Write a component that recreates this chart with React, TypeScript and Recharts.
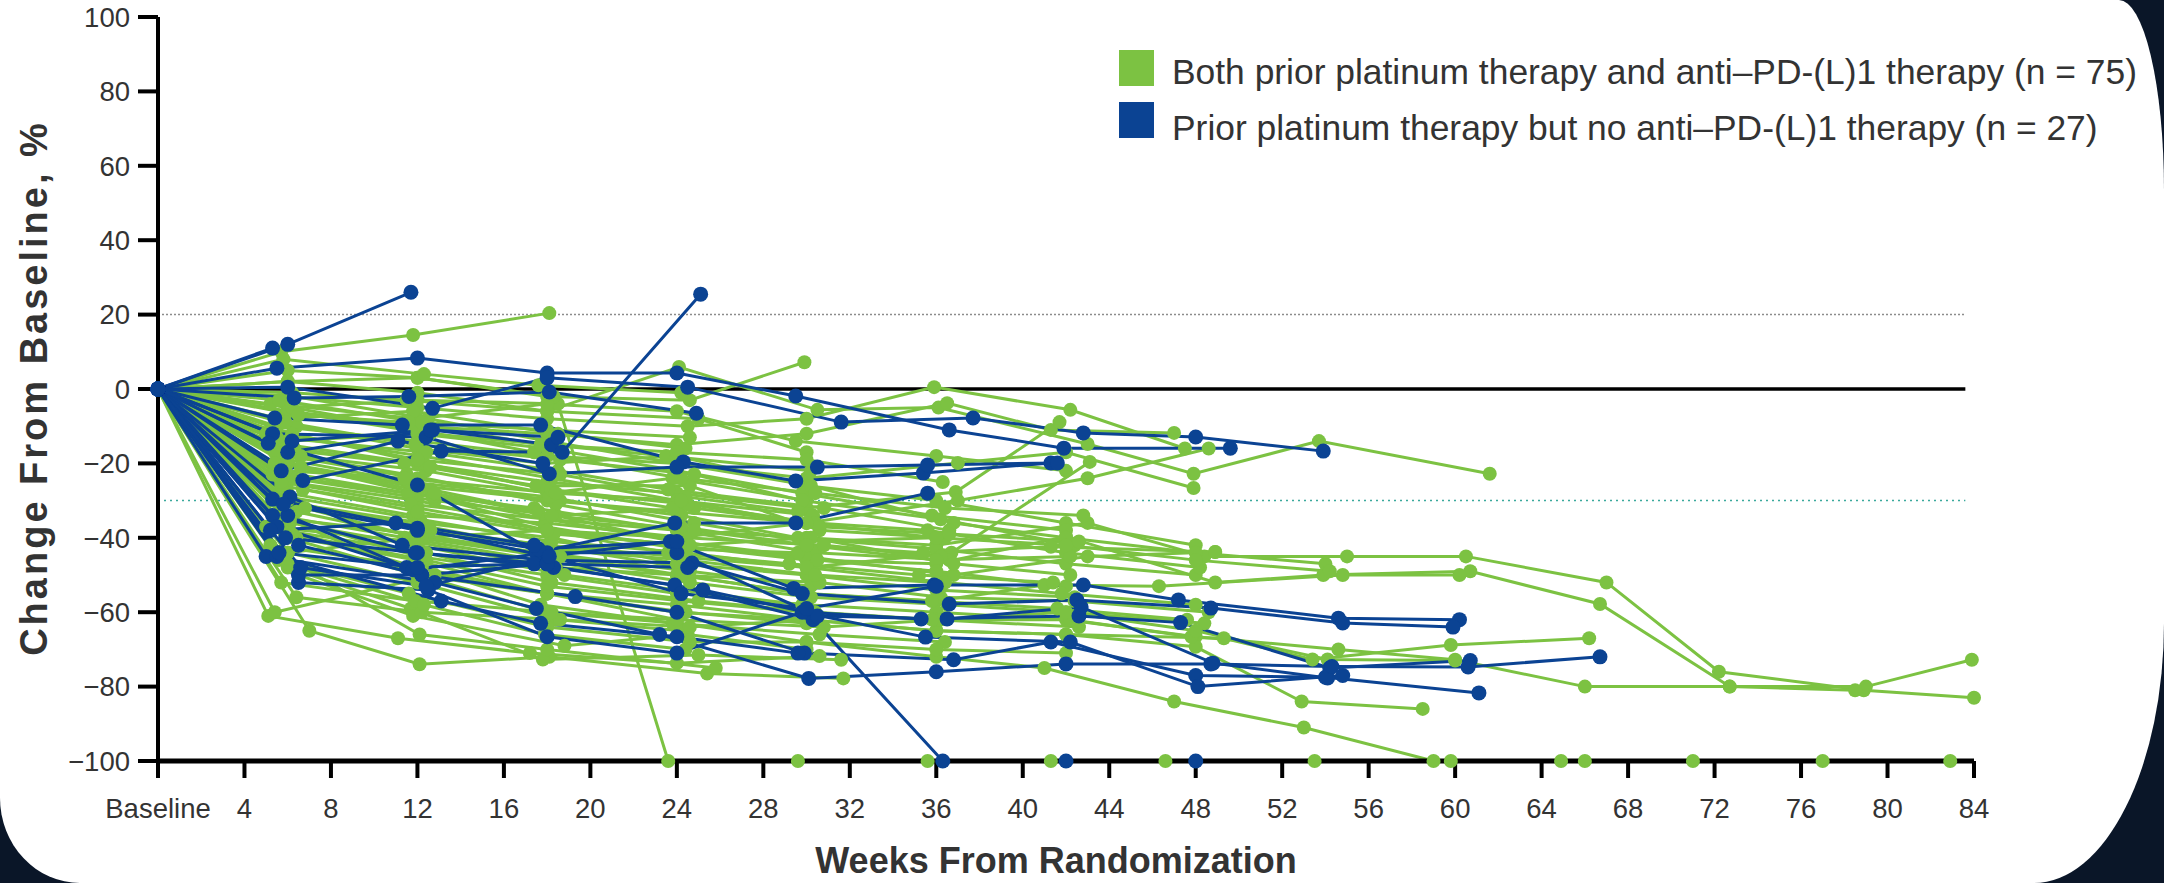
import React from 'react';
import { LineChart, Line, XAxis, YAxis, ReferenceLine } from 'recharts';

// spider plot: % change from baseline per patient, [week, value] pairs
const weekTicks = [0, 4, 8, 12, 16, 20, 24, 28, 32, 36, 40, 44, 48, 52, 56, 60, 64, 68, 72, 76, 80, 84];
const pctTicks = [-100, -80, -60, -40, -20, 0, 20, 40, 60, 80, 100];

const legendLabels = [
    'Both prior platinum therapy and anti\u2013PD-(L)1 therapy (n = 75)',
    'Prior platinum therapy but no anti\u2013PD-(L)1 therapy (n = 27)',
];

type Pt = [number, number];

const greenLines: Pt[][] = [
    [[0, 0], [5.7, 10], [11.8, 14.5], [18.1, 20.4]],
    [[0, 0], [6, 2], [12, 3], [18, -2], [24.6, -3], [29.9, 7.2]],
    [[0, 0], [6, 2], [12, -1], [18, -6], [24.1, 5.9], [30.5, -5.6], [36.1, -5], [43, -14.8], [47.9, -22.8], [53.7, -14], [61.6, -22.8]],
    [[0, 0], [6, -2], [12, -5], [18, -8], [24.5, -10], [30, -8], [35.9, 0.5], [42.2, -5.6], [47.5, -16]],
    [[0, 0], [6, -6], [12, -10], [18, -12], [24, -15], [30, -12], [36.5, -3.8], [41.3, -11], [47, -11.8]],
    [[0, 0], [5.5, -10], [12, -14], [18, -18], [24, -20], [30, -24], [37, -19.9], [42, -17], [47.9, -26.6]],
    [[0, 0], [6, -15], [12, -20], [18, -25], [24, -28], [30, -32], [36.9, -27.7], [41.7, -8.9]],
    [[0, 0], [6, -18], [12, -24], [18, -30], [24, -33], [30, -36], [37, -30], [43, -24], [48.6, -16]],
    [[0, 0], [6, -30], [12, -38], [18, -42], [24, -45], [30, -48], [36.7, -44], [43.1, -19.6]],
    [[0, 0], [6, -20], [12, -28], [18, -35], [24, -38], [30, -40], [36, -42], [43, -36], [48.4, -45], [55, -45], [60.5, -45], [67, -52], [72.2, -76], [78.9, -81], [84, -83]],
    [[0, 0], [6, -25], [12, -30], [18, -38], [24, -42], [30, -46], [36, -47], [42, -39.7], [48.9, -52], [53.9, -50], [60.7, -49], [66.7, -57.8], [72.7, -80], [79, -80], [83.9, -72.8]],
    [[0, 0], [5.5, -30], [12, -40], [18, -45], [24, -50], [30, -55], [36, -57], [41, -52.7], [46.3, -53], [54.8, -50], [60.2, -50]],
    [[0, 0], [6, -35], [12, -45], [18, -50], [24, -55], [30, -58], [36, -60], [42, -62], [48, -66.6], [54.6, -70], [60, -72.8], [66, -80], [72.7, -80], [78.5, -81]],
    [[0, 0], [6, -40], [12, -50], [18, -55], [24, -58], [30, -62], [36, -65], [42, -66], [49.3, -67], [53.4, -72.7], [59.8, -68.8], [66.2, -67]],
    [[0, 0], [6, -5], [12, -3], [18.5, -4], [23.6, -100], [29.6, -100], [35.6, -100], [41.3, -100], [46.6, -100], [53.5, -100], [59.8, -100], [66, -100], [71, -100], [77, -100], [82.9, -100]],
    [[0, 0], [6, -35], [12, -50], [18, -60], [24, -63], [30, -68], [36, -72], [41, -75], [47, -84], [53, -91], [59, -100], [64.9, -100]],
    [[0, 0], [6, -38], [12, -48], [18, -55], [24, -60], [30, -62], [36, -65], [42, -66], [48, -69.3], [52.9, -84], [58.5, -86]],
    [[0, 0], [5.1, -61], [11.1, -67], [17.2, -71], [24, -73.7], [30.6, -71.8]],
    [[0, 0], [5.4, -60], [12.8, -50], [18, -55], [24, -62]],
    [[0, 0], [7, -65], [12.1, -74], [18.1, -72], [25.4, -76.5], [31.7, -77.8]],
    [[0, 0], [6, -48], [11.7, -59], [17.8, -72.7], [25, -71.5], [31.6, -72.8]],
    [[0, 0], [6.5, -50], [11.8, -61], [18.8, -69], [24.5, -66], [30, -70]],
    [[0, 0], [5.8, -45], [12.1, -66], [18, -70], [25.8, -75]],
    [[0, 0], [6, 5], [12, 3], [18.3, -2]],
    [[0, 0], [5.8, 8], [12.3, 4], [17.6, 1], [24.2, -1]],
    [[0, 0], [6.2, -1], [11.5, -3], [18, -6], [25, -8], [30, -17]],
    [[0, 0], [5.2, -4], [12, -8], [18, -4], [24, -6], [29.5, -14], [36, -18], [42, -22]],
    [[0, 0], [6, -6], [12.6, -12], [18, -15], [23.5, -18], [30.2, -22]],
    [[0, 0], [5.6, -8], [11.8, -6], [18.5, -12], [24.4, -16]],
    [[0, 0], [6.4, -10], [12, -16], [17.8, -20], [24, -18], [30, -26], [36, -30], [42, -36], [48, -42]],
    [[0, 0], [5, -12], [12.2, -18], [18.2, -24], [24, -30], [30.3, -34]],
    [[0, 0], [6, -14], [12, -12], [18, -16], [24, -22], [29.8, -28], [35.8, -34], [42, -38]],
    [[0, 0], [5.6, -16], [11.4, -20], [17.5, -26], [24.6, -26], [30.6, -38], [36.4, -40]],
    [[0, 0], [6.6, -18], [12.4, -22], [18, -28], [23.8, -24], [30, -30]],
    [[0, 0], [5.9, -20], [12, -26], [18.6, -30], [24.2, -34], [29.6, -40], [36, -43], [42, -47], [48, -50]],
    [[0, 0], [5.4, -22], [11.6, -28], [17.4, -32], [24, -38], [30.4, -44], [36.6, -46]],
    [[0, 0], [6.2, -24], [12.8, -30], [18.4, -34], [24.8, -32], [30, -36]],
    [[0, 0], [5.7, -26], [12, -32], [18, -38], [23.6, -44], [29.2, -47], [35.2, -50], [41.4, -52]],
    [[0, 0], [6, -28], [11.8, -34], [17.9, -36], [24.4, -40], [30.8, -42], [36.2, -45]],
    [[0, 0], [5.3, -30], [12.2, -36], [18.2, -40], [24, -47], [30, -50], [36, -54], [42.4, -56]],
    [[0, 0], [6.8, -32], [12.6, -38], [18, -42], [24.2, -48]],
    [[0, 0], [5.5, -34], [11.4, -40], [17.6, -46], [24.6, -52], [30.2, -56], [36.5, -58], [42, -60], [48.4, -63]],
    [[0, 0], [6.1, -36], [12, -42], [18.8, -50], [24, -54], [29.8, -58]],
    [[0, 0], [5.8, -38], [12.4, -44], [18.2, -52], [25, -57], [30.4, -60], [36, -62], [42.6, -64]],
    [[0, 0], [6.4, -40], [11.9, -46], [18, -55], [24.4, -60], [30, -63]],
    [[0, 0], [5.2, -42], [12.2, -48], [17.7, -58], [23.8, -63], [30.6, -66], [36.4, -68]],
    [[0, 0], [6, -44], [12, -52], [18.4, -62], [24.2, -65]],
    [[0, 0], [5.6, -46], [11.6, -55], [18, -64], [24.6, -68], [30, -68], [36, -70], [42, -71]],
    [[0, 0], [6.3, -2], [12.5, -8], [18, -14], [24, -20], [30.2, -26], [36.8, -36], [42, -40], [48, -44], [54, -47]],
    [[0, 0], [5.9, -9], [11.9, -15], [18.6, -19], [24.8, -23], [29.8, -30], [36.2, -35], [42.4, -42]],
    [[0, 0], [6.2, -12], [12.3, -20], [18, -27], [24.5, -31], [30.4, -36], [35.6, -38], [42, -44], [48.2, -48]],
    [[0, 0], [5.4, -17], [11.5, -23], [18.4, -31], [24.2, -37], [30, -42], [36, -46], [42.2, -45]],
    [[0, 0], [6.6, -21], [12.6, -27], [17.6, -33], [23.9, -41], [29.9, -45], [36.8, -50], [43, -45], [48.9, -43.8]],
    [[0, 0], [5.7, -25], [11.7, -31], [18, -35], [24, -41], [30.5, -46], [36, -49], [42, -53]],
    [[0, 0], [6, -29], [12.1, -35], [18.2, -41], [24.4, -44], [30, -48], [36.4, -52], [41.8, -55], [48, -58]],
    [[0, 0], [6.4, -33], [12.2, -40], [17.8, -44], [24.6, -49], [30.2, -53]],
    [[0, 0], [5, -37], [11.8, -41], [18.4, -48], [24, -50], [30.6, -52], [36.2, -56], [42.4, -57], [48.6, -60]],
    [[0, 0], [6.2, -5], [12, -11], [17.4, -17], [24.2, -24], [30.4, -28], [36.4, -32], [42.8, -34]],
    [[0, 0], [5.5, -13], [12.4, -17], [18.5, -22], [23.6, -27], [30.8, -32], [36.6, -38]],
    [[0, 0], [6, -19], [11.6, -25], [18.1, -29], [24.8, -36], [30, -41], [36, -40], [42, -42], [48, -46], [54.2, -49]],
    [[0, 0], [5.3, -23], [12.7, -29], [17.9, -37], [24.2, -43], [29.6, -44]],
    [[0, 0], [6.7, -27], [12, -33], [18.3, -39], [24.6, -42], [30.2, -40], [36.8, -47], [42.2, -50]],
    [[0, 0], [5.8, -31], [12.5, -37], [18, -43], [24.4, -46], [30.4, -50], [36, -52]],
    [[0, 0], [6.1, -35], [11.9, -39], [18.6, -45], [24.2, -50], [29.8, -55], [35.8, -57], [41.6, -59], [47.6, -62]],
    [[0, 0], [5.6, -3], [12.2, -9], [18, -11], [24.6, -13]],
    [[0, 0], [6.5, -7], [11.6, -9], [17.7, -15], [24, -17], [30, -19], [36.3, -25]],
    [[0, 0], [5.2, -11], [12, -19], [18.6, -23], [24.4, -29], [29.6, -33]],
    [[0, 0], [6.3, -16], [12.6, -21], [18.2, -27], [23.8, -32]],
    [[0, 0], [5.9, -22], [11.4, -24], [18.4, -28], [24.2, -30], [30.6, -37], [36.6, -39], [42.6, -41]],
    [[0, 0], [6, -44], [12, -40], [18, -38], [24, -40], [30, -36], [36, -40]],
    [[0, 0], [6.4, -56], [12.2, -60], [18.6, -62], [24.6, -64], [30.2, -62]],
    [[0, 0], [5.7, -52], [11.9, -57], [18.2, -60], [24, -62], [30.8, -64], [36.2, -62], [42.2, -62], [47.8, -66.6]],
    [[0, 0], [6, -47], [12.3, -58], [17.9, -66], [24.4, -70]],
    [[0, 0], [6.2, -39], [12.4, -46], [18, -53], [24.2, -57], [30, -60], [35.8, -62], [42, -60], [48, -65], [54.1, -72.7], [60, -73]],
    [[0, 0], [5.4, -20], [12.8, -28], [18.2, -34], [24.8, -38], [30, -42], [35.4, -44], [41.3, -42.4], [48.9, -43.8]],
];

const blueLines: Pt[][] = [
    [[0, 0], [6, 12], [11.7, 26]],
    [[0, 0], [5.3, 11]],
    [[0, 0], [5.5, 5.6], [12, 8.3], [18, 4.3], [24, 4.3], [29.5, -1.9], [36.6, -11], [41.9, -15.9], [49.6, -15.9]],
    [[0, 0], [6, 0.5], [12.7, -5.2], [18, 3], [24.5, 0.5], [31.6, -8.9], [37.7, -7.8], [42.8, -11.8], [48, -12.9], [53.9, -16.7]],
    [[0, 0], [6.3, -2.4], [11.6, -2], [18.1, -0.8], [24.9, -6.5]],
    [[0, 0], [5.4, -7.8], [11.3, -9.7], [17.7, -9.7], [24.3, -19.6], [29.5, -24.7], [35.4, -22.6], [41.3, -19.9]],
    [[0, 0], [5.3, -12], [12.4, -12.9], [18.1, -22.8], [24, -21], [30.5, -21], [35.6, -20.4], [41.6, -19.9]],
    [[0, 0], [6, -17], [12.7, -11], [18.2, -15]],
    [[0, 0], [6.7, -24.6], [13.1, -16.7], [18.7, -17], [25.1, 25.5]],
    [[0, 0], [5.1, -14.6], [12, -25.8], [17.5, -44], [23.9, -36], [29.5, -36], [35.6, -28]],
    [[0, 0], [5.7, -22], [11.1, -14], [17.8, -20]],
    [[0, 0], [5.3, -29.6], [12, -37.4], [18, -45], [23.7, -41], [29.4, -53.6], [35.9, -52.7], [42.8, -52.7], [47.2, -56.7], [54.6, -61.6], [60.2, -62]],
    [[0, 0], [6.1, -29], [11.3, -42], [17.8, -46], [24.7, -46.8], [29.8, -55], [36.6, -57.8], [42.5, -56.7], [48.7, -58.9], [54.8, -62.9], [59.9, -64]],
    [[0, 0], [5.3, -34], [12, -44], [18.3, -48], [23.9, -52.7], [30.3, -62], [36.3, -100], [42, -100], [48, -100]],
    [[0, 0], [6, -34], [11.5, -48], [17.4, -47], [25.2, -54], [30, -60], [35.3, -61.8], [42.6, -61], [47.3, -62.8], [54.2, -75], [60.7, -73]],
    [[0, 0], [5.5, -37], [11.8, -48.6], [18, -44], [24, -44], [30.5, -61], [36.5, -61.8], [42.7, -58.6], [48.8, -73.7], [54.1, -77.7]],
    [[0, 0], [6.5, -42], [12.2, -50], [19.3, -55.8], [24, -60], [29.9, -71], [36.8, -72.8], [41.3, -68], [48, -77], [54, -77.5], [61.1, -81.7]],
    [[0, 0], [5, -45], [12.8, -52], [17.5, -59], [23.2, -66], [30.1, -77.8], [36, -76], [42, -73.9], [48.7, -73.9], [54.3, -74.6], [60.6, -74.7], [66.7, -72]],
    [[0, 0], [5.5, -45], [13.1, -57], [17.7, -63], [24, -66.6], [29.6, -71]],
    [[0, 0], [6.5, -52], [12.5, -54], [18, -66.6], [24, -71], [29.8, -60], [35.5, -66.7], [42.2, -68], [48.1, -80], [54.8, -77]],
    [[0, 0], [6.5, -50], [12.2, -50], [18, -47], [24.5, -48]],
    [[0, 0], [5.8, -31], [12, -38], [17.6, -43], [24, -41]],
    [[0, 0], [6.2, -14], [12.6, -11], [18.5, -13]],
    [[0, 0], [5.9, -40], [11.9, -44], [18, -47]],
    [[0, 0], [5.6, -44], [12, -48]],
    [[0, 0], [6.6, -48], [12.4, -53], [18.1, -45], [24.2, -55], [30, -59], [36, -53]],
    [[0, 0], [5.2, -38], [11, -36], [17.4, -42]],
];

const GREEN = '#7cc242';
const BLUE = '#0b4393';
const FONT = '"Liberation Sans", Arial, sans-serif';

const toPts = (line: Pt[]) => line.map(([w, v]) => ({ w, v }));
const fmtPct = (v: number) => (v < 0 ? `\u2212${Math.abs(v)}` : `${v}`);

export default function App() {
    const axisStyle = { stroke: '#000', strokeWidth: 4 };
    return (
        <div style={{ position: 'absolute', left: 0, top: 0, width: 2164, height: 883, background: '#0a1628', overflow: 'hidden' }}>
            <div style={{
                position: 'absolute', left: 0, top: 0, width: 2164, height: 883, background: '#fff',
                borderRadius: '0 45px 130px 80px / 0 190px 260px 85px',
            }} />
            <LineChart width={2164} height={883} margin={{ top: 17, right: 190, bottom: 62, left: 98 }}
                style={{ position: 'absolute', left: 0, top: 0 }}>
                <XAxis dataKey="w" type="number" domain={[0, 84]} ticks={weekTicks} allowDuplicatedCategory={false}
                    tickFormatter={(v: number) => (v === 0 ? 'Baseline' : `${v}`)}
                    tick={{ fill: '#333', fontSize: 27.5, fontFamily: FONT }}
                    tickSize={17} tickMargin={20} height={60}
                    axisLine={{ stroke: '#000', strokeWidth: 5 }} tickLine={axisStyle} />
                <YAxis dataKey="v" type="number" domain={[-100, 100]} ticks={pctTicks} width={60}
                    tickFormatter={fmtPct}
                    tick={{ fill: '#333', fontSize: 27.5, fontFamily: FONT }}
                    tickSize={20} tickMargin={8}
                    axisLine={axisStyle} tickLine={axisStyle} />
                <ReferenceLine segment={[{ x: 0, y: 20 }, { x: 83.6, y: 20 }]} stroke="#8c8c8c" strokeWidth={1.5} strokeDasharray="2 2" />
                <ReferenceLine segment={[{ x: 0, y: -30 }, { x: 83.6, y: -30 }]} stroke="#3aa99c" strokeWidth={1.5} strokeDasharray="2 4" />
                <ReferenceLine segment={[{ x: 0, y: 0 }, { x: 83.6, y: 0 }]} stroke="#000" strokeWidth={3.5} />
                {greenLines.map((l, i) => (
                    <Line key={`g${i}`} data={toPts(l)} dataKey="v" stroke={GREEN} strokeWidth={3}
                        dot={{ r: 7, fill: GREEN, stroke: GREEN, strokeWidth: 0 }} activeDot={false}
                        isAnimationActive={false} />
                ))}
                {blueLines.map((l, i) => (
                    <Line key={`b${i}`} data={toPts(l)} dataKey="v" stroke={BLUE} strokeWidth={3}
                        dot={{ r: 7.5, fill: BLUE, stroke: BLUE, strokeWidth: 0 }} activeDot={false}
                        isAnimationActive={false} />
                ))}
            </LineChart>
            <svg width={2164} height={883} style={{ position: 'absolute', left: 0, top: 0, pointerEvents: 'none' }}>
                <text x={47} y={388} transform="rotate(-90 47 388)" textAnchor="middle"
                    fontFamily={FONT} fontWeight="bold" fontSize={38} letterSpacing={3} fill="#333">
                    Change From Baseline, %
                </text>
                <text x={1056} y={873} textAnchor="middle" fontFamily={FONT} fontWeight="bold" fontSize={36} fill="#333">
                    Weeks From Randomization
                </text>
                <rect x={1119} y={50} width={35} height={36} fill={GREEN} />
                <text x={1172} y={84} fontFamily={FONT} fontSize={35.4} fill="#333">{legendLabels[0]}</text>
                <rect x={1119} y={102} width={35} height={36} fill={BLUE} />
                <text x={1172} y={140} fontFamily={FONT} fontSize={35.4} fill="#333">{legendLabels[1]}</text>
            </svg>
        </div>
    );
}
